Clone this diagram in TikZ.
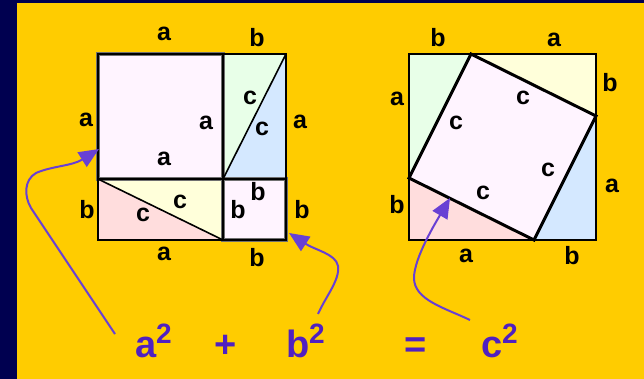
\documentclass[tikz,border=0pt]{standalone}
\usepackage{fontspec}
\setmainfont{Liberation Sans}
\usetikzlibrary{arrows.meta}
\definecolor{bgyellow}{RGB}{255,204,0}
\definecolor{navyband}{RGB}{0,0,80}
\definecolor{sqfill}{RGB}{255,244,255}
\definecolor{tgreen}{RGB}{232,255,232}
\definecolor{tblue}{RGB}{212,232,255}
\definecolor{tyellow}{RGB}{255,255,218}
\definecolor{tpink}{RGB}{255,221,221}
\definecolor{eqpurple}{RGB}{80,32,192}
\definecolor{arrpurple}{RGB}{104,64,212}
\definecolor{edgegray}{RGB}{112,112,112}
\begin{document}
\begin{tikzpicture}[x=1pt,y=-1pt,
  lbl/.style={inner sep=0pt, font=\fontsize{25}{25}\selectfont\bfseries},
  eq/.style={inner sep=0pt, anchor=base, text=eqpurple, font=\fontsize{38}{38}\selectfont\bfseries},
  supnum/.style={inner sep=0pt, anchor=base, text=eqpurple, font=\fontsize{28}{28}\selectfont\bfseries},
  pointer/.style={draw=arrpurple, line width=2pt, -{Triangle[length=20pt,width=17pt]}},
  piece/.style={draw=black, line width=2pt},
  diag/.style={draw=black, line width=1.6pt},
  hiedge/.style={draw=edgegray, line width=4.5pt},
  tiltsq/.style={draw=black, line width=3pt, line join=miter}]
\useasboundingbox (0,0) rectangle (644,379);
\fill[bgyellow] (0,0) rectangle (644,379);
\fill[navyband] (0,0) rectangle (17,379);
\fill[navyband] (0,0) rectangle (644,3);

% ---------- left figure ----------
\coordinate (LA) at (98,54);
\coordinate (LB) at (223,54);
\coordinate (LC) at (286,54);
\coordinate (LD) at (98,179);
\coordinate (LE) at (223,179);
\coordinate (LF) at (286,179);
\coordinate (LG) at (98,240);
\coordinate (LH) at (223,240);
\coordinate (LI) at (286,240);

\fill[sqfill] (LA) rectangle (LE);
\fill[tgreen] (LE) -- (LB) -- (LC) -- cycle;
\fill[tblue] (LE) -- (LC) -- (LF) -- cycle;
\fill[tyellow] (LD) -- (LE) -- (LH) -- cycle;
\fill[tpink] (LD) -- (LG) -- (LH) -- cycle;
\fill[sqfill] (LE) rectangle (LI);

\draw[hiedge] (LA) rectangle (LE);
\draw[hiedge] (LE) rectangle (LI);
\draw[piece] (LB) rectangle (LF);
\draw[piece] (LD) rectangle (LH);
\draw[piece] (LA) rectangle (LE);
\draw[piece] (LE) rectangle (LI);
\draw[diag] (LE) -- (LC);
\draw[diag] (LD) -- (LH);

% outer labels
\node[lbl] (la1) at (164,34) {a};
\node[lbl] (lb1) at (257,38) {b};
\node[lbl] (la2) at (86,120) {a};
\node[lbl] (la3) at (300,122) {a};
\node[lbl] (lb2) at (87,210) {b};
\node[lbl] (lb3) at (302,210) {b};
\node[lbl] (la4) at (164,254) {a};
\node[lbl] (lb4) at (257,258) {b};
% inner labels
\node[lbl] (ia1) at (206,123) {a};
\node[lbl] (ia2) at (164,159) {a};
\node[lbl] (ic1) at (250,98) {c};
\node[lbl] (ic2) at (262,129) {c};
\node[lbl] (ic3) at (180,202) {c};
\node[lbl] (ic4) at (143,215) {c};
\node[lbl] (ib1) at (238,210) {b};
\node[lbl] (ib2) at (258,192) {b};

% ---------- right figure ----------
\coordinate (RA) at (409,54);
\coordinate (RB) at (596,54);
\coordinate (RC) at (596,240);
\coordinate (RD) at (409,240);
\coordinate (RT) at (471,54);
\coordinate (RR) at (596,116);
\coordinate (RBo) at (534,240);
\coordinate (RL) at (409,178);

\fill[tgreen] (RA) -- (RT) -- (RL) -- cycle;
\fill[tyellow] (RT) -- (RB) -- (RR) -- cycle;
\fill[tblue] (RR) -- (RC) -- (RBo) -- cycle;
\fill[tpink] (RBo) -- (RD) -- (RL) -- cycle;
\fill[sqfill] (RT) -- (RR) -- (RBo) -- (RL) -- cycle;
\draw[piece] (RA) rectangle (RC);
\draw[tiltsq] (RT) -- (RR) -- (RBo) -- (RL) -- cycle;

\node[lbl] (rb1) at (438,38) {b};
\node[lbl] (ra1) at (554,40) {a};
\node[lbl] (ra2) at (397,99) {a};
\node[lbl] (rb2) at (397,205) {b};
\node[lbl] (rb3) at (610,83) {b};
\node[lbl] (ra3) at (612,186) {a};
\node[lbl] (ra4) at (466,256) {a};
\node[lbl] (rb4) at (572,256) {b};
\node[lbl] (rc1) at (523,98) {c};
\node[lbl] (rc2) at (456,123) {c};
\node[lbl] (rc3) at (548,170) {c};
\node[lbl] (rc4) at (483,193) {c};

% ---------- equation ----------
\node[eq] (ea) at (146,357) {a};
\node[supnum] (ea2) at (164,343) {2};
\node[eq] (plus) at (226,357) {+};
\node[eq] (eb) at (298,357) {b};
\node[supnum] (eb2) at (317,343) {2};
\node[eq] (equals) at (416,357) {=};
\node[eq] (ec) at (492,357) {c};
\node[supnum] (ec2) at (510,343) {2};

% ---------- pointers ----------
\coordinate (s1) at (115,334);
\coordinate (t1) at (99,149);
\coordinate (s2) at (318,314);
\coordinate (t2) at (289,233);
\coordinate (s3) at (470,320);
\coordinate (t3) at (450,198);

\draw[pointer] (s1) -- (31,208) .. controls (24,196) and (24,180) .. (36,173)
  .. controls (52,166) and (72,166) .. (t1);
\draw[pointer] (s2) .. controls (326,296) and (340,280) .. (338,266)
  .. controls (336,254) and (315,250) .. (t2);
\draw[pointer] (s3) .. controls (445,308) and (414,300) .. (414,278)
  .. controls (414,258) and (436,222) .. (t3);
\end{tikzpicture}
\end{document}
